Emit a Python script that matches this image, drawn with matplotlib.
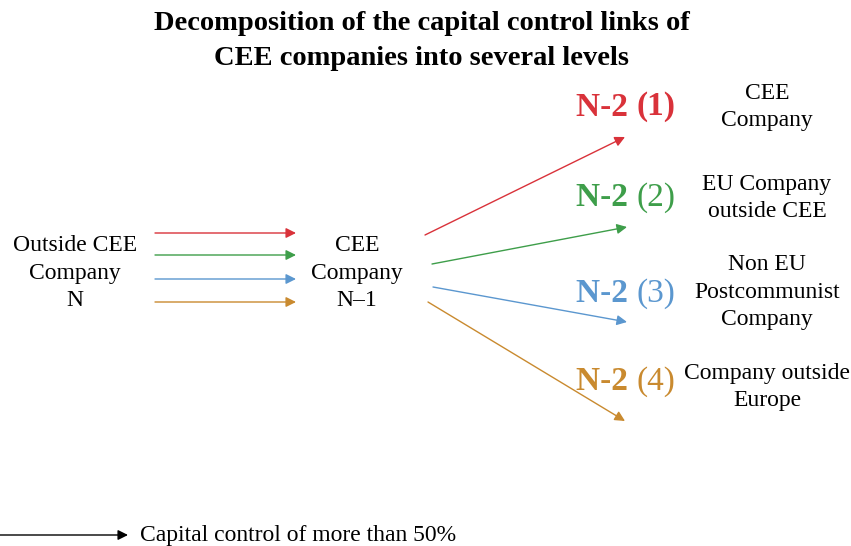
import matplotlib.pyplot as plt

# Texts
title = 'Decomposition of the capital control links of\nCEE companies into several levels'
source_label = 'Outside CEE\nCompany\nN'
middle_label = 'CEE\nCompany\nN\u20131'
level_tags = ['(1)', '(2)', '(3)', '(4)']
level_names = ['CEE\nCompany', 'EU Company\noutside CEE',
               'Non EU\nPostcommunist\nCompany', 'Company outside\nEurope']
legend_text = 'Capital control of more than 50%'
colors = ['#d9323a', '#3e9e4a', '#5b97cf', '#c98a2f']

# Layout (pixel coordinates, y downwards)
left_y = [233, 255, 279, 302]
right_start = [(425, 235), (432, 264), (433, 287), (428, 302)]
right_end = [(625, 137), (627, 227), (627, 322), (625, 421)]
tag_y = [107, 198, 294, 382]
name_y = [107, 198, 292, 387]

plt.rcParams['font.family'] = ['Liberation Serif', 'DejaVu Serif']

fig = plt.figure(figsize=(8.51, 5.46), dpi=100)
ax = fig.add_axes([0, 0, 1, 1])
ax.set_xlim(0, 851)
ax.set_ylim(546, 0)
ax.axis('off')

ax.text(422, 41, title, ha='center', va='center', fontsize=20.5,
        fontweight='bold', linespacing=1.5)

body = 17
ls = 1.38
ax.text(75, 273, source_label, ha='center', va='center', fontsize=body,
        linespacing=ls)
ax.text(357, 273, middle_label, ha='center', va='center', fontsize=body,
        linespacing=ls)

arrow = dict(arrowstyle='-|>', lw=1.0, mutation_scale=15,
             shrinkA=0, shrinkB=0)

for y, c in zip(left_y, colors):
    ax.annotate('', xy=(296, y), xytext=(155, y),
                arrowprops=dict(arrow, color=c))

for (x0, y0), (x1, y1), c in zip(right_start, right_end, colors):
    ax.annotate('', xy=(x1, y1), xytext=(x0, y0),
                arrowprops=dict(arrow, color=c))

for i, (tag, c, y) in enumerate(zip(level_tags, colors, tag_y)):
    t = ax.text(576, y, 'N-2 ', ha='left', va='center', fontsize=24,
                fontweight='bold', color=c)
    fig.canvas.draw()
    bb = t.get_window_extent()
    xd = ax.transData.inverted().transform((bb.x1, 0))[0]
    ax.text(xd, y, tag, ha='left', va='center', fontsize=24,
            fontweight='bold' if i == 0 else 'normal', color=c)

for name, y in zip(level_names, name_y):
    ax.text(767, y, name, ha='center', va='center', fontsize=body,
            linespacing=ls)

ax.annotate('', xy=(128, 535), xytext=(0, 535),
            arrowprops=dict(arrow, color='black'))
ax.text(140, 535, legend_text, ha='left', va='center', fontsize=body)

fig.savefig('out.png', dpi=100)
